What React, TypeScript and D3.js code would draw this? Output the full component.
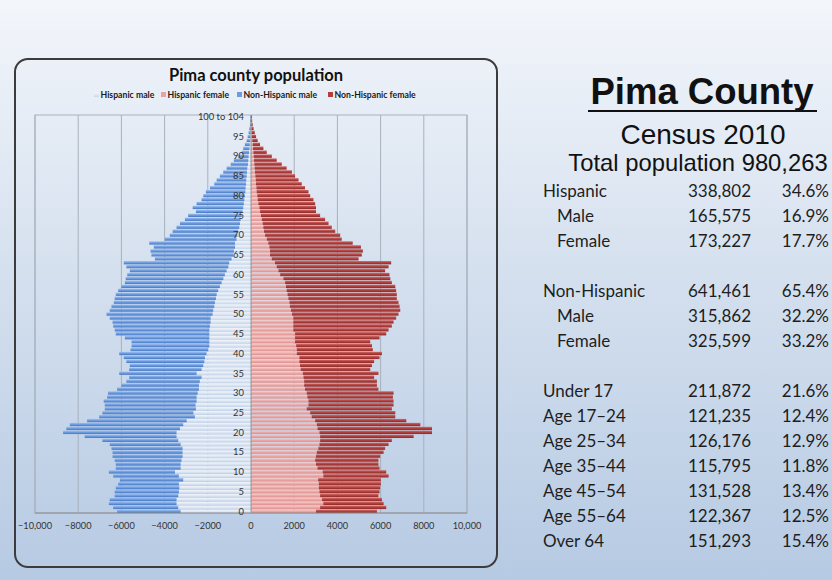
import React from 'react';
import * as d3 from 'd3';

// ---------- Data ----------
const ages: number[] = Array.from({ length: 101 }, (_, i) => i);
const ageTickLabels: string[] = ['0', '5', '10', '15', '20', '25', '30', '35', '40', '45', '50', '55', '60', '65', '70', '75', '80', '85', '90', '95', '100 to 104'];
const ageTickAges: number[] = [0, 5, 10, 15, 20, 25, 30, 35, 40, 45, 50, 55, 60, 65, 70, 75, 80, 85, 90, 95, 100];

const hispanicMale: number[] = [
  3260, 3370, 3450, 3450, 3370, 3340, 3320, 3340, 3140, 3340,
  3520, 3260, 3260, 3220, 3170, 3170, 3170, 3260, 3370, 3450,
  3450, 3290, 3140, 2980, 2600, 2670, 2550, 2570, 2520, 2520,
  2470, 2410, 2410, 2370, 2290, 2520, 2290, 2210, 2160, 2130,
  2060, 1980, 1930, 1930, 1930, 1930, 1930, 1900, 1870, 1870,
  1780, 1750, 1700, 1670, 1620, 1590, 1520, 1440, 1360, 1280,
  1210, 1130, 1050, 1010, 900, 820, 790, 740, 740, 670,
  630, 590, 540, 510, 480, 430, 390, 360, 330, 310,
  280, 260, 250, 230, 220, 200, 185, 170, 140, 125,
  110, 90, 70, 55, 40, 30, 22, 15, 10, 6,
  5,
];
const nonHispanicMale: number[] = [
  2940, 3010, 3130, 3090, 2940, 2970, 2940, 2810, 2930, 3040,
  3060, 3000, 3000, 3090, 3240, 3240, 3290, 3280, 3510, 4250,
  5250, 5260, 5250, 4610, 4430, 4210, 4220, 4200, 4300, 4140,
  4150, 3790, 3590, 3400, 3350, 3580, 3350, 3400, 3610, 3760,
  4040, 3600, 3600, 3600, 3910, 4330, 4380, 4480, 4540, 4670,
  4910, 4790, 4760, 4680, 4690, 4670, 4630, 4560, 4480, 4520,
  4520, 4480, 4720, 4880, 3550, 3790, 3860, 3760, 3970, 3320,
  3130, 3040, 2910, 2780, 2580, 2480, 2160, 2340, 2190, 1980,
  1930, 1830, 1650, 1470, 1370, 1240, 1100, 960, 800, 670,
  480, 340, 290, 230, 160, 125, 90, 65, 40, 30,
  20,
];
const hispanicFemale: number[] = [
  3010, 3200, 3350, 3290, 3200, 3170, 3140, 3140, 3110, 3350,
  3320, 3080, 3010, 2970, 3010, 3050, 3120, 3170, 3200, 3200,
  3170, 3080, 3050, 2970, 2810, 2740, 2580, 2660, 2660, 2610,
  2580, 2500, 2460, 2460, 2430, 2400, 2300, 2270, 2240, 2240,
  2120, 2120, 2090, 2040, 2040, 2040, 1960, 1960, 1960, 1960,
  1900, 1850, 1800, 1780, 1730, 1690, 1650, 1620, 1580, 1500,
  1350, 1270, 1190, 1110, 960, 880, 880, 850, 800, 730,
  650, 600, 570, 540, 500, 460, 420, 390, 340, 310,
  290, 260, 250, 230, 220, 200, 185, 170, 155, 140,
  125, 110, 95, 80, 60, 45, 35, 25, 15, 10,
  8,
];
const nonHispanicFemale: number[] = [
  2820, 3060, 2790, 2770, 2700, 2780, 2840, 2870, 2900, 3020,
  2940, 2870, 2890, 2930, 2970, 3090, 3090, 3200, 3320, 4330,
  5210, 5300, 4790, 4220, 3870, 3940, 3940, 3940, 3940, 3960,
  4020, 3400, 3370, 3370, 3270, 3500, 3220, 3330, 3460, 3710,
  3940, 3520, 3510, 3480, 3910, 4220, 4410, 4560, 4640, 4760,
  4930, 5060, 5080, 5050, 5020, 5060, 5070, 5060, 4940, 4950,
  5060, 4940, 5180, 5380, 4020, 4250, 4300, 4240, 3910, 3470,
  3480, 3300, 3170, 3050, 2930, 2740, 2590, 2620, 2630, 2580,
  2450, 2400, 2250, 2120, 1980, 1840, 1710, 1480, 1270, 1050,
  840, 620, 480, 340, 250, 190, 140, 95, 65, 45,
  40,
];

const xTicks: number[] = [-10000, -8000, -6000, -4000, -2000, 0, 2000, 4000, 6000, 8000, 10000];
const legendLabels: string[] = ['Hispanic male', 'Hispanic female', 'Non-Hispanic male', 'Non-Hispanic female'];

const chartTitle = 'Pima county population';
const headTitle = 'Pima County';
const headSub = 'Census 2010';
const headTotal = 'Total population 980,263';

const rowLabels: string[] = ['Hispanic', 'Male', 'Female', 'Non-Hispanic', 'Male', 'Female', 'Under 17', 'Age 17\u201324', 'Age 25\u201334', 'Age 35\u201344', 'Age 45\u201354', 'Age 55\u201364', 'Over 64'];
const rowCounts: string[] = ['338,802', '165,575', '173,227', '641,461', '315,862', '325,599', '211,872', '121,235', '126,176', '115,795', '131,528', '122,367', '151,293'];
const rowPercents: string[] = ['34.6%', '16.9%', '17.7%', '65.4%', '32.2%', '33.2%', '21.6%', '12.4%', '12.9%', '11.8%', '13.4%', '12.5%', '15.4%'];
const rowIndent: boolean[] = [false, true, true, false, true, true, false, false, false, false, false, false, false];

// ---------- Styles ----------
const W = 832;
const H = 580;
const sans = 'Lato, "Open Sans", sans-serif';
const arial = '"Liberation Sans", Arial, sans-serif';

const fmtTick = (v: number) => {
  const a = Math.abs(v);
  const s = a >= 10000 ? d3.format(',')(a) : String(a);
  return v < 0 ? '\u2212' + s : s;
};

export default function App() {
  const x = d3.scaleLinear().domain([-10000, 10000]).range([35, 467]);
  const y = d3.scaleBand<string>().domain(ages.map(String)).range([513, 115]).paddingInner(0.16);
  const bw = y.bandwidth();
  const top = 115;
  const bottom = 513;

  const legendX = [94, 161, 237, 328];
  const legendFill = ['url(#gLight)', '#e8a3a1', '#6b9be0', '#b0403e'];

  const slotOf = (i: number) => i + (i >= 3 ? 1 : 0) + (i >= 6 ? 1 : 0);

  return (
    <svg width={W} height={H} style={{ position: 'absolute', left: 0, top: 0, display: 'block' }}>
      <defs>
        <linearGradient id="bg" x1="0" y1="0" x2="0" y2="1">
          <stop offset="0" stopColor="#f3f6fb" />
          <stop offset="0.45" stopColor="#d6e1ef" />
          <stop offset="1" stopColor="#b6cae3" />
        </linearGradient>
        <linearGradient id="gBlue" x1="0" y1="0" x2="0" y2="1">
          <stop offset="0" stopColor="#a3c1ef" />
          <stop offset="0.5" stopColor="#6b9be0" />
          <stop offset="1" stopColor="#4576c0" />
        </linearGradient>
        <linearGradient id="gRed" x1="0" y1="0" x2="0" y2="1">
          <stop offset="0" stopColor="#cf6a68" />
          <stop offset="0.5" stopColor="#b0403e" />
          <stop offset="1" stopColor="#8a2826" />
        </linearGradient>
        <linearGradient id="gPink" x1="0" y1="0" x2="0" y2="1">
          <stop offset="0" stopColor="#f6cdcb" />
          <stop offset="0.5" stopColor="#eaa8a6" />
          <stop offset="1" stopColor="#de908e" />
        </linearGradient>
        <linearGradient id="gLight" x1="0" y1="0" x2="0" y2="1">
          <stop offset="0" stopColor="#f4f7fc" />
          <stop offset="0.5" stopColor="#dfe8f4" />
          <stop offset="1" stopColor="#c9d7ea" />
        </linearGradient>
      </defs>

      <rect x={0} y={0} width={W} height={H} fill="url(#bg)" />

      {/* chart panel */}
      <rect x={15} y={59} width={482} height={508} rx={13} ry={13} fill="none" stroke="#3c3c3c" strokeWidth={2} />

      <text x={256} y={81} textAnchor="middle" fontFamily={sans} fontWeight={700} fontSize={16.5} fill="#111">
        {chartTitle}
      </text>

      {/* legend */}
      {legendLabels.map((l, i) => (
        <g key={l}>
          <rect x={legendX[i]} y={92} width={5} height={5} fill={legendFill[i]} />
          <text x={legendX[i] + 6.5} y={97.8} fontFamily={sans} fontWeight={700} fontSize={8.7} fill="#1a1a1a">
            {l}
          </text>
        </g>
      ))}

      {/* plot frame + grid */}
      <rect x={x(-10000)} y={top} width={x(10000) - x(-10000)} height={bottom - top} fill="none" stroke="#a7b1be" strokeWidth={1} />
      {xTicks.map((t) => (
        <line key={t} x1={x(t)} x2={x(t)} y1={top} y2={bottom} stroke="#a7b1be" strokeWidth={1} />
      ))}

      {/* bars */}
      {ages.map((a, i) => {
        const yy = y(String(a)) as number;
        const hm = hispanicMale[i];
        const nhm = nonHispanicMale[i];
        const hf = hispanicFemale[i];
        const nhf = nonHispanicFemale[i];
        return (
          <g key={a}>
            <rect x={x(-hm)} y={yy} width={x(0) - x(-hm)} height={bw} fill="url(#gLight)" />
            <rect x={x(-(hm + nhm))} y={yy} width={x(-hm) - x(-(hm + nhm))} height={bw} fill="url(#gBlue)" />
            <rect x={x(0)} y={yy} width={x(hf) - x(0)} height={bw} fill="url(#gPink)" />
            <rect x={x(hf)} y={yy} width={x(hf + nhf) - x(hf)} height={bw} fill="url(#gRed)" />
          </g>
        );
      })}

      {/* axes */}
      <line x1={x(0)} x2={x(0)} y1={top} y2={bottom} stroke="#8c8c8c" strokeWidth={0.8} />
      <line x1={x(-10000)} x2={x(10000)} y1={bottom} y2={bottom} stroke="#8c8c8c" strokeWidth={1} />

      {ageTickAges.map((a, i) => (
        <text key={a} x={244} y={(y(String(a)) as number) + bw / 2 + 3.3} textAnchor="end" fontFamily={sans} fontSize={9.4} fill="#333">
          {ageTickLabels[i]}
        </text>
      ))}

      {xTicks.map((t) => (
        <text key={t} x={x(t)} y={529} textAnchor="middle" fontFamily={sans} fontSize={9.2} fill="#333">
          {fmtTick(t)}
        </text>
      ))}

      {/* right side text */}
      <text x={702} y={104} textAnchor="middle" fontFamily={arial} fontWeight={700} fontSize={36.5} fill="#111">
        {headTitle}
      </text>
      <line x1={588} x2={817} y1={111} y2={111} stroke="#111" strokeWidth={2.2} />
      <text x={703} y={144} textAnchor="middle" fontFamily={arial} fontSize={28} fill="#111">
        {headSub}
      </text>
      <text x={698} y={171} textAnchor="middle" fontFamily={arial} fontSize={23.8} fill="#111">
        {headTotal}
      </text>

      {rowLabels.map((l, i) => {
        const yy = 197 + 25 * slotOf(i);
        return (
          <g key={i}>
            <text x={rowIndent[i] ? 557 : 543} y={yy} fontFamily={sans} fontSize={17} fill="#1e1e1e">
              {l}
            </text>
            <text x={751} y={yy} textAnchor="end" fontFamily={sans} fontSize={17} fill="#1e1e1e">
              {rowCounts[i]}
            </text>
            <text x={829} y={yy} textAnchor="end" fontFamily={sans} fontSize={17} fill="#1e1e1e">
              {rowPercents[i]}
            </text>
          </g>
        );
      })}
    </svg>
  );
}
